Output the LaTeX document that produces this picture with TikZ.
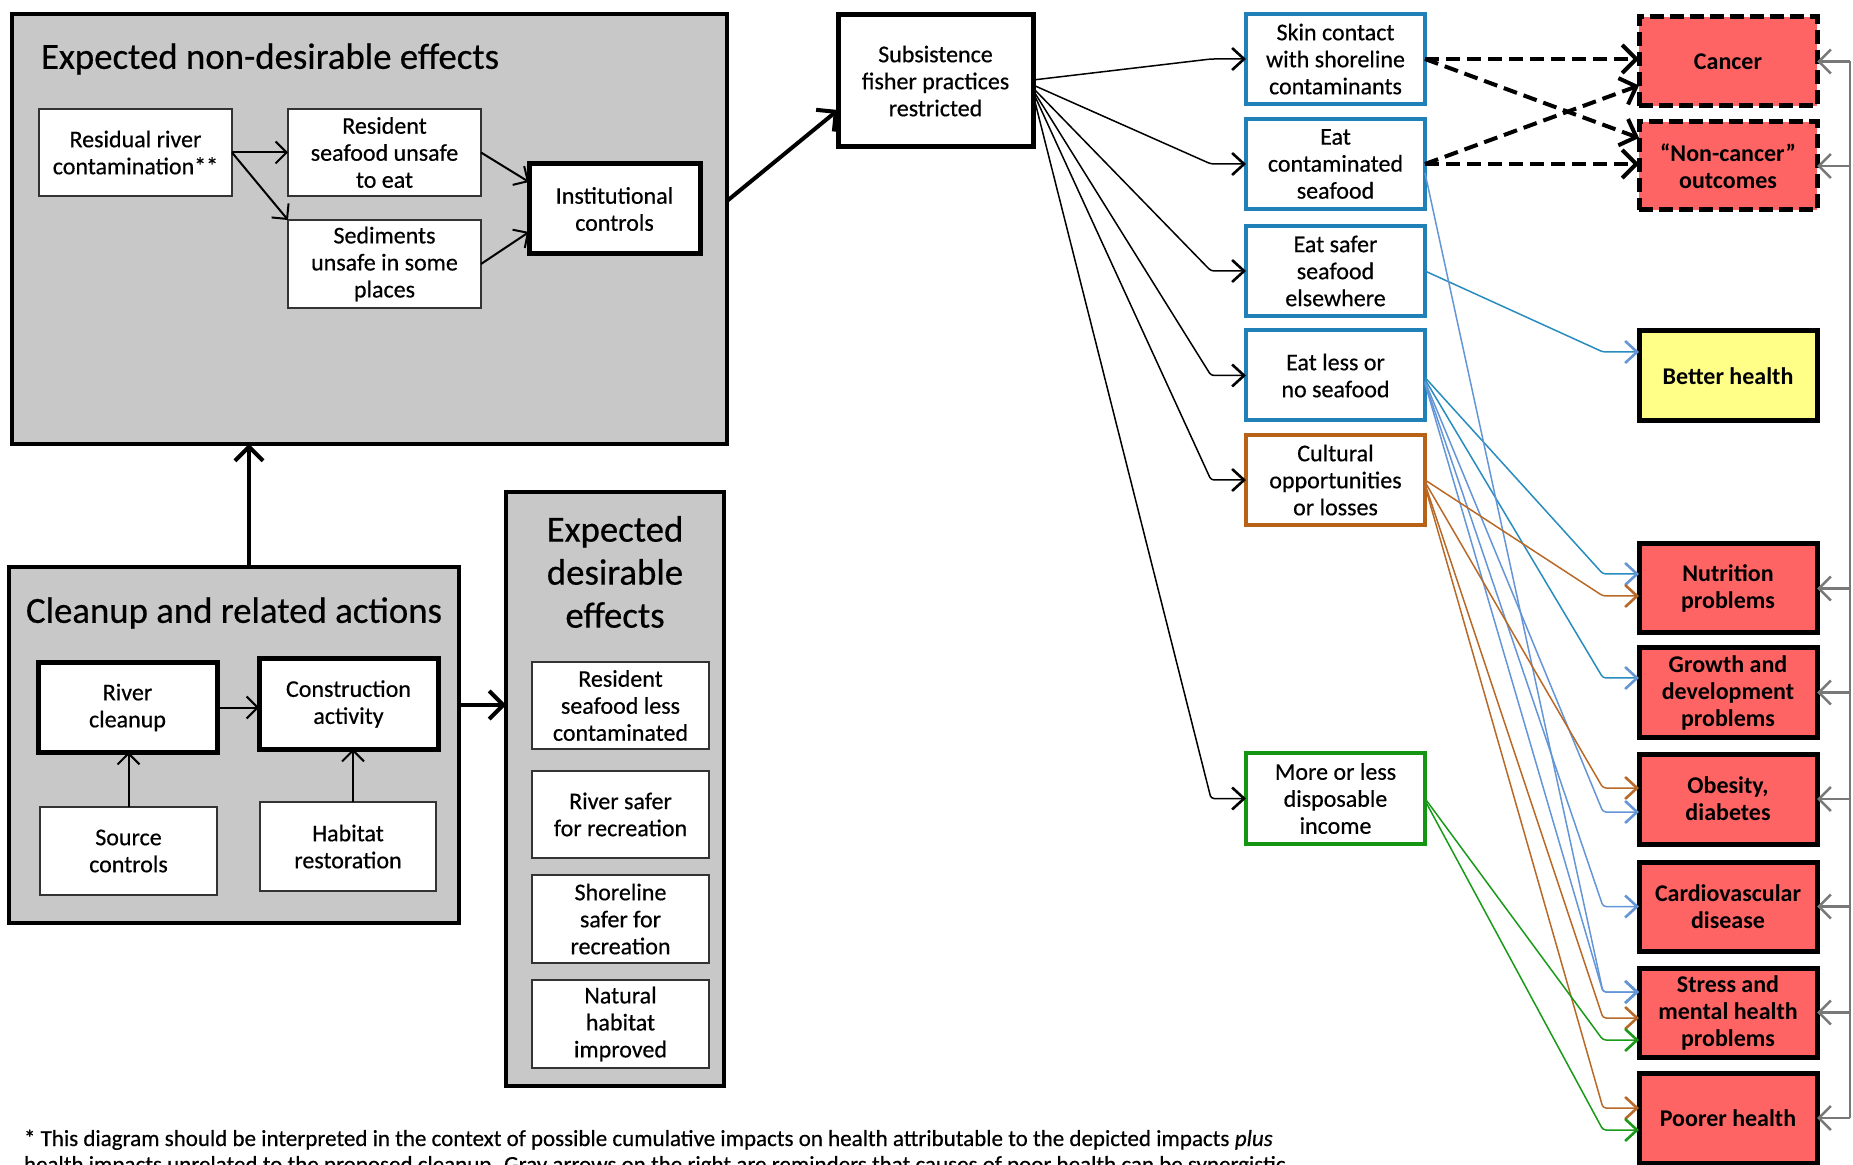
\documentclass[tikz,border=0pt]{standalone}
\usepackage{fontspec}
\setmainfont{Carlito}
\newfontfamily\heavyfam{Carlito}[FakeBold=0.5]
\usetikzlibrary{arrows.meta}
\definecolor{boxgray}{RGB}{200,200,200}
\definecolor{redfill}{RGB}{255,100,100}
\definecolor{yelfill}{RGB}{255,255,136}
\definecolor{bluebd}{RGB}{32,128,184}
\definecolor{orangebd}{RGB}{184,98,24}
\definecolor{greenbd}{RGB}{20,150,20}
\definecolor{lblue}{RGB}{100,150,215}
\definecolor{tealln}{RGB}{40,140,190}
\definecolor{orln}{RGB}{184,105,40}
\definecolor{grln}{RGB}{25,155,25}
\definecolor{grayln}{RGB}{120,120,120}
\newcommand{\bodyfont}{\heavyfam\fontsize{12}{13.5}\selectfont}
\newcommand{\titlefont}{\heavyfam\fontsize{18.4}{21.5}\selectfont}
\newcommand{\notefont}{\heavyfam\fontsize{11.5}{13}\selectfont}
\begin{document}
\begin{tikzpicture}[x=0.5pt,y=-0.5pt,
 every node/.style={inner sep=0pt,outer sep=0pt},
 sz/.style 2 args={minimum width=#1pt,minimum height=#2pt},
 container/.style={draw=black,line width=2pt,fill=boxgray},
 wbox/.style={draw=black!80,line width=0.9pt,fill=white,align=center,font=\bodyfont},
 tbox/.style={wbox,draw=black,line width=2.5pt},
 bbox/.style={wbox,draw=bluebd,line width=2pt,sz={89.5}{45}},
 obox/.style={wbox,draw=orangebd,line width=2pt,sz={89.5}{45}},
 gbox/.style={wbox,draw=greenbd,line width=2pt,sz={89.5}{45.5}},
 rbox/.style={draw=black,line width=2.5pt,fill=redfill,align=center,font={\fontsize{12}{13.5}\selectfont\bfseries},sz={89}{44.5}},
 dbox/.style={rbox,dash pattern=on 7pt off 3pt},
 ybox/.style={rbox,fill=yelfill,sz={89}{45}},
 medarr/.style={line width=1pt,-{Straight Barb[length=5.5pt,width=11pt]}},
 thickarr/.style={line width=2pt,-{Straight Barb[length=7pt,width=14pt]}},
 dasharr/.style={thickarr,dash pattern=on 7pt off 3.5pt},
 blkarr/.style={line width=0.75pt,rounded corners=1.5pt,-{Straight Barb[length=6pt,width=11pt,line width=1.3pt]}},
 tealarr/.style={blkarr,draw=tealln,-{Straight Barb[length=6pt,width=11pt,line width=1.3pt,color=lblue]}},
 bluearr/.style={blkarr,draw=lblue},
 orarr/.style={blkarr,draw=orln},
 grarr/.style={blkarr,draw=grln},
 grayarr/.style={line width=1.3pt,draw=grayln,-{Straight Barb[length=6pt,width=12pt]}}
]
\useasboundingbox (0,0) rectangle (1853,1165);

% ---- non-desirable container
\node[container,sz={357.5}{215}] (nondes) at (369.5,229) {};
\node[anchor=west,font=\titlefont] (t1) at (41,59) {Expected non-desirable effects};
\node[wbox,sz={96.5}{43.5}] (resid) at (135.5,152.5) {Residual river\\contamination**};
\node[wbox,sz={96.5}{43.5}] (unsafe) at (384.5,152.5) {Resident\\seafood unsafe\\to eat};
\node[wbox,sz={96.5}{44}] (sedim) at (384.5,264) {Sediments\\unsafe in some\\places};
\node[tbox,sz={85.5}{45}] (inst) at (614.5,209) {Institutional\\controls};

% ---- cleanup container
\node[container,sz={225}{178}] (cleanup) at (234,745) {};
\node[anchor=west,font=\titlefont] (t2) at (26,613) {Cleanup and related actions};
\node[tbox,sz={89.5}{44.5}] (river) at (127.5,707.5) {River\\cleanup};
\node[tbox,sz={89.5}{45}] (constr) at (348.5,704) {Construction\\activity};
\node[wbox,sz={88.5}{44}] (source) at (128.5,851) {Source\\controls};
\node[wbox,sz={88}{44.5}] (habitat) at (348,846.5) {Habitat\\restoration};

% ---- desirable container
\node[container,sz={109}{297}] (desir) at (615,789) {};
\node[align=center,font=\titlefont] (t3) at (615,572) {Expected\\desirable\\effects};
\node[wbox,sz={88.5}{43.5}] (less1) at (620.5,705.5) {Resident\\seafood less\\contaminated};
\node[wbox,sz={88.5}{43.5}] (rsafe) at (620.5,814.5) {River safer\\for recreation};
\node[wbox,sz={88.5}{44}] (ssafe) at (620.5,919) {Shoreline\\safer for\\recreation};
\node[wbox,sz={88.5}{44}] (habimp) at (620.5,1024) {Natural\\habitat\\improved};

% ---- subsistence
\node[tbox,sz={97.5}{66}] (subs) at (935.5,81) {Subsistence\\fisher practices\\restricted};

% ---- middle column
\node[bbox] (skin) at (1335.5,59) {Skin contact\\with shoreline\\contaminants};
\node[bbox] (contam) at (1335.5,164) {Eat\\contaminated\\seafood};
\node[bbox] (safer) at (1335.5,271) {Eat safer\\seafood\\elsewhere};
\node[bbox] (less) at (1335.5,375.5) {Eat less or\\no seafood};
\node[obox] (cult) at (1335.5,480) {Cultural\\opportunities\\or losses};
\node[gbox] (income) at (1335.5,798.5) {More or less\\disposable\\income};

% ---- right column
\node[dbox] (cancer) at (1728,61.5) {Cancer};
\node[dbox,sz={89}{44}] (noncan) at (1728,166) {``Non-cancer''\\outcomes};
\node[ybox] (better) at (1728,376) {Better health};
\node[rbox] (nutr) at (1728,588.5) {Nutrition\\problems};
\node[rbox] (growth) at (1728,692.5) {Growth and\\development\\problems};
\node[rbox,sz={89}{45}] (obes) at (1728,799) {Obesity,\\diabetes};
\node[rbox] (cardio) at (1728,906.5) {Cardiovascular\\disease};
\node[rbox] (stress) at (1728,1012.5) {Stress and\\mental health\\problems};
\node[rbox,sz={89}{45}] (poorer) at (1728,1118) {Poorer health};

% ---- footnote
\node[anchor=base west,font=\notefont] (note1) at (24,1146)
 {* This diagram should be interpreted in the context of possible cumulative impacts on health attributable to the depicted impacts \textit{plus}};
\node[anchor=base west,font=\notefont] (note2) at (24,1172)
 {health impacts unrelated to the proposed cleanup. Gray arrows on the right are reminders that causes of poor health can be synergistic.};

% ---- left connectors
\draw[thickarr] ([xshift=7.5pt]cleanup.north) -- ([xshift=7.5pt]cleanup.north |- nondes.south);
\draw[thickarr] ([yshift=20pt]cleanup.east) -- ([yshift=20pt]cleanup.east -| desir.west);
\draw[thickarr] ([yshift=14pt]nondes.east) -- ([yshift=-14.5pt]subs.west);
\draw[medarr] (resid.east) -- (unsafe.west);
\draw[medarr] (resid.east) -- (sedim.north west);
\draw[medarr] (unsafe.east) -- ([yshift=13.5pt]inst.west);
\draw[medarr] (sedim.east) -- ([yshift=-11.5pt]inst.west);
\draw[medarr] (river.east) -- (river.east -| constr.west);
\draw[medarr] (source.north) -- (source.north |- river.south);
\draw[medarr] ([xshift=2.5pt]habitat.north) -- ([xshift=2.5pt]habitat.north |- constr.south);

% ---- subsistence fan
\draw[blkarr] ([yshift=0.5pt]subs.east) -- ([xshift=-17.5pt]skin.west) -- (skin.west);
\draw[blkarr] ([yshift=-2pt]subs.east) -- ([xshift=-17.5pt]contam.west) -- (contam.west);
\draw[blkarr] ([yshift=-3.5pt]subs.east) -- ([xshift=-17.5pt]safer.west) -- (safer.west);
\draw[blkarr] ([yshift=-4.5pt]subs.east) -- ([xshift=-17.5pt]less.west) -- (less.west);
\draw[blkarr] ([yshift=-5.5pt]subs.east) -- ([xshift=-17.5pt]cult.west) -- (cult.west);
\draw[blkarr] ([yshift=-6.5pt]subs.east) -- ([xshift=-17.5pt]income.west) -- (income.west);

% ---- dashed exposure arrows
\draw[dasharr] (skin.east) -- ([yshift=1.25pt]cancer.west);
\draw[dasharr] (skin.east) -- ([yshift=14pt]noncan.west);
\draw[dasharr] (contam.east) -- ([yshift=-12pt]cancer.west);
\draw[dasharr] (contam.east) -- ([yshift=1pt]noncan.west);

% ---- coloured outcome arrows
\draw[tealarr] (safer.east) -- ([xshift=-18pt,yshift=12pt]better.west) -- ([yshift=12pt]better.west);
\draw[tealarr] ([yshift=-1pt]less.east) -- ([xshift=-18pt,yshift=7.25pt]nutr.west) -- ([yshift=7.25pt]nutr.west);
\draw[tealarr] ([yshift=-2pt]less.east) -- ([xshift=-18pt,yshift=7.25pt]growth.west) -- ([yshift=7.25pt]growth.west);
\draw[bluearr] ([yshift=-3pt]less.east) -- ([xshift=-18pt,yshift=-6.5pt]obes.west) -- ([yshift=-6.5pt]obes.west);
\draw[bluearr] ([yshift=-3.5pt]less.east) -- ([xshift=-18pt]cardio.west) -- (cardio.west);
\draw[bluearr] ([yshift=-4pt]less.east) -- ([xshift=-18pt,yshift=10.25pt]stress.west) -- ([yshift=10.25pt]stress.west);
\draw[bluearr] ([yshift=-4.5pt]contam.east) -- ([xshift=-18pt,yshift=10.25pt]stress.west) -- ([yshift=10.25pt]stress.west);
\draw[orarr] (cult.east) -- ([xshift=-18pt,yshift=-3.75pt]nutr.west) -- ([yshift=-3.75pt]nutr.west);
\draw[orarr] ([yshift=-1pt]cult.east) -- ([xshift=-18pt,yshift=5.5pt]obes.west) -- ([yshift=5.5pt]obes.west);
\draw[orarr] ([yshift=-2pt]cult.east) -- ([xshift=-18pt,yshift=-2.75pt]stress.west) -- ([yshift=-2.75pt]stress.west);
\draw[orarr] ([yshift=-3pt]cult.east) -- ([xshift=-18pt,yshift=5pt]poorer.west) -- ([yshift=5pt]poorer.west);
\draw[grarr] (income.east) -- ([xshift=-18pt,yshift=-13.75pt]stress.west) -- ([yshift=-13.75pt]stress.west);
\draw[grarr] ([yshift=-1pt]income.east) -- ([xshift=-18pt,yshift=-6pt]poorer.west) -- ([yshift=-6pt]poorer.west);

% ---- gray synergy arrows
\coordinate (gtop) at (1850,61.5);
\draw[grayln,line width=1.3pt] (gtop) -- (gtop |- poorer.east);
\foreach \n in {cancer,noncan,nutr,growth,obes,cardio,stress,poorer}
  \draw[grayarr] (gtop |- \n.east) -- (\n.east);
\end{tikzpicture}
\end{document}
